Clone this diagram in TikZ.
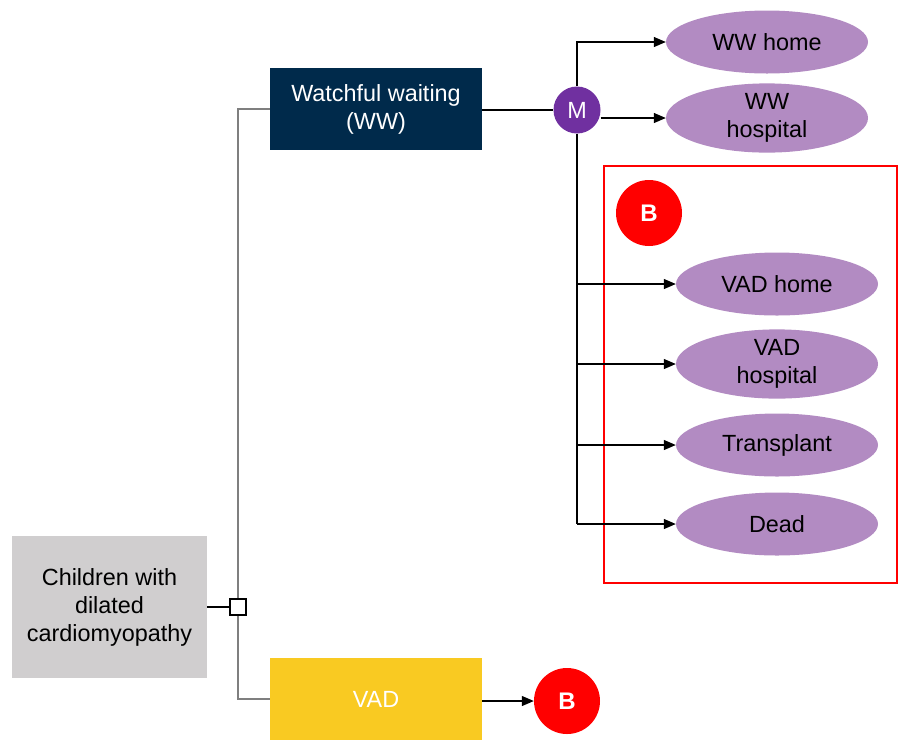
\documentclass[tikz,border=0pt]{standalone}
\usepackage{fontspec}
\setmainfont{Liberation Sans}
\usetikzlibrary{arrows.meta,shapes.geometric}
\definecolor{navy}{HTML}{002A4B}
\definecolor{vadyel}{HTML}{F9CA22}
\definecolor{greybox}{HTML}{D0CECF}
\definecolor{mpurple}{HTML}{7030A0}
\definecolor{lilac}{HTML}{B28BC2}
\definecolor{treeline}{HTML}{7F7F7F}
\tikzset{
  txt/.style={font=\fontsize{23.4}{28}\selectfont, align=center},
  rectbox/.style={txt, minimum width=212pt, minimum height=82pt, inner sep=0pt},
  state/.style={ellipse, fill=lilac, txt, minimum width=202pt, minimum height=63pt, inner sep=0pt, text=black},
  bnode/.style={circle, fill=red, text=white, minimum size=66pt, inner sep=0pt, font=\fontsize{24}{28}\selectfont\bfseries},
  arr/.style={-{Triangle[length=12pt,width=10pt]}, line width=1.2pt, black},
  conn/.style={line width=1.2pt, black},
  tline/.style={line width=2pt, treeline},
}
\begin{document}
\begin{tikzpicture}[x=1pt,y=-1pt]
\useasboundingbox (0,0) rectangle (901,740);
% nodes
\node[rectbox, fill=greybox, minimum width=195pt, minimum height=142pt] (pop) at (109.5,607) {Children with\\dilated\\cardiomyopathy};
\node[draw=black, line width=2pt, fill=white, minimum size=16pt, inner sep=0pt] (dec) at (238,607) {};
\node[rectbox, fill=navy, text=white] (ww) at (376,109) {Watchful waiting\\(WW)};
\node[rectbox, fill=vadyel, text=white] (vad) at (376,699) {VAD};
\node[circle, fill=mpurple, text=white, minimum size=47pt, inner sep=0pt, font=\fontsize{23.4}{28}\selectfont] (m) at (577,110) {M};
\node[state] (wwh) at (767,42) {WW home};
\node[state] (wwhos) at (767,118) {WW\\hospital};
\node[draw=red, line width=2.4pt, minimum width=293pt, minimum height=417pt, inner sep=0pt] (frame) at (750.5,374.5) {};
\node[bnode] (b1) at (649,213) {B};
\node[state] (vh) at (777,284) {VAD home};
\node[state] (vhos) at (777,364) {VAD\\hospital};
\node[state] (tx) at (777,445) {Transplant};
\node[state] (dead) at (777,524) {Dead};
\node[bnode] (b2) at (567,701) {B};
% decision tree lines
\draw[conn] (pop.east) -- (dec.west);
\draw[tline] (dec.north) |- (ww.west);
\draw[tline] (dec.south) |- (vad.west);
\draw[conn, line width=1.6pt] (ww.east |- m) -- (m.west);
\draw[arr] (vad.east |- b2) -- (b2.west);
% Markov branches
\draw[arr] (m.north) |- (wwh.west);
\draw[arr] (m.east |- wwhos) -- (wwhos.west);
\coordinate (mb) at (m.south);
\draw[conn] (mb) -- (mb |- dead);
\draw[arr] (mb |- vh) -- (vh.west);
\draw[arr] (mb |- vhos) -- (vhos.west);
\draw[arr] (mb |- tx) -- (tx.west);
\draw[arr] (mb |- dead) -- (dead.west);
\end{tikzpicture}
\end{document}
